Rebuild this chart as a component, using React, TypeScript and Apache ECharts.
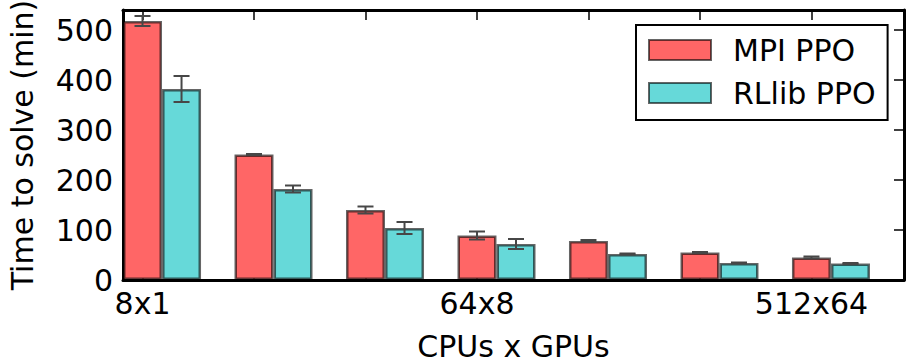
import React, { useEffect, useRef } from "react";
import * as echarts from "echarts";

const categories = ["8x1", "16x2", "32x4", "64x8", "128x16", "256x32", "512x64"];
const labeledTicks = [0, 3, 6];
const mpiValues = [518, 251, 140, 89, 78, 55, 45];
const mpiErrors = [10, 1, 7, 8, 2, 1, 2];
const rllibValues = [382, 182, 104, 72, 52, 34, 33];
const rllibErrors = [26, 7, 12, 10, 1, 1, 1];
const yTicks = [0, 100, 200, 300, 400, 500];

const BAR_W = 0.35;
const FONT = "DejaVu Sans";

export default function App() {
  const ref = useRef<HTMLDivElement>(null);
  useEffect(() => {
    if (!ref.current) return;
    const chart = echarts.init(ref.current, null, { renderer: "svg" });
    const idx = categories.map((_, i) => i);
    const mpiData = idx.map((i) => [i, mpiValues[i]]);
    const rlData = idx.map((i) => [i + BAR_W, rllibValues[i]]);
    const errData = [
      ...idx.map((i) => [i, mpiValues[i], mpiErrors[i]]),
      ...idx.map((i) => [i + BAR_W, rllibValues[i], rllibErrors[i]]),
    ];
    const axisLine = { show: true, onZero: false, lineStyle: { color: "#000", width: 3 } };
    const tick = { show: true, inside: true, length: 10, lineStyle: { color: "#000", width: 1.5 } };
    const xMin = -BAR_W / 2;
    const xMax = 6.83;
    chart.setOption({
      animation: false,
      textStyle: { fontFamily: FONT },
      grid: { left: 123, right: 7, top: 10, bottom: 84, containLabel: false, outerBoundsMode: "none" },
      legend: {
        data: ["MPI PPO", "RLlib PPO"],
        orient: "vertical",
        left: 636,
        top: 25,
        icon: "rect",
        itemWidth: 62,
        itemHeight: 20,
        itemGap: 13,
        padding: [10, 12, 12, 12],
        borderColor: "#000",
        borderWidth: 2,
        borderRadius: 0,
        backgroundColor: "#fff",
        textStyle: { fontFamily: FONT, fontSize: 30, color: "#000", lineHeight: 30, padding: [0, 0, 0, 17] },
      },
      xAxis: [
        {
          type: "value",
          position: "bottom",
          min: xMin,
          max: xMax,
          name: "CPUs x GPUs",
          nameLocation: "middle",
          nameGap: 51,
          nameTextStyle: { fontFamily: FONT, fontSize: 30, color: "#000" },
          axisLine,
          axisTick: { ...tick, customValues: idx },
          axisLabel: {
            show: true,
            customValues: labeledTicks,
            margin: 8,
            fontFamily: FONT,
            fontSize: 30,
            color: "#000",
            formatter: (v: number) => (labeledTicks.includes(Math.round(v)) && Math.abs(v - Math.round(v)) < 1e-6 ? categories[Math.round(v)] : ""),
          },
          splitLine: { show: false },
        },
        {
          type: "value",
          position: "top",
          min: xMin,
          max: xMax,
          axisLine,
          axisTick: { ...tick, customValues: idx },
          axisLabel: { show: false },
          splitLine: { show: false },
        },
      ],
      yAxis: [
        {
          type: "value",
          position: "left",
          min: 0,
          max: 540,
          interval: 100,
          name: "Time to solve (min)",
          nameLocation: "middle",
          nameGap: 86,
          nameTextStyle: { fontFamily: FONT, fontSize: 30, color: "#000" },
          axisLine,
          axisTick: { ...tick, customValues: yTicks },
          axisLabel: {
            show: true,
            customValues: yTicks,
            margin: 10,
            fontFamily: FONT,
            fontSize: 30,
            color: "#000",
            formatter: (v: number) => (yTicks.includes(v) ? String(v) : ""),
          },
          splitLine: { show: false },
        },
        {
          type: "value",
          position: "right",
          min: 0,
          max: 540,
          interval: 100,
          axisLine,
          axisTick: { ...tick, customValues: yTicks },
          axisLabel: { show: false },
          splitLine: { show: false },
        },
      ],
      series: [
        {
          name: "MPI PPO",
          type: "bar",
          xAxisIndex: 0,
          yAxisIndex: 0,
          data: mpiData,
          barWidth: 39,
          barGap: "-100%",
          itemStyle: { color: "#FF6666", borderColor: "rgba(0,0,0,0.6)", borderWidth: 2.5 },
        },
        {
          name: "RLlib PPO",
          type: "bar",
          xAxisIndex: 0,
          yAxisIndex: 0,
          data: rlData,
          barWidth: 39,
          barGap: "-100%",
          itemStyle: { color: "#66D9D9", borderColor: "rgba(0,0,0,0.6)", borderWidth: 2.5 },
        },
        {
          name: "errors",
          type: "custom",
          xAxisIndex: 0,
          yAxisIndex: 0,
          data: errData,
          z: 5,
          renderItem: (params: any, api: any) => {
            const x = api.value(0);
            const v = api.value(1);
            const e = api.value(2);
            const top = api.coord([x, v + e]);
            const bot = api.coord([x, v - e]);
            const cap = 8;
            const style = { stroke: "#474747", lineWidth: 2 };
            return {
              type: "group",
              children: [
                { type: "line", shape: { x1: top[0], y1: top[1], x2: bot[0], y2: bot[1] }, style },
                { type: "line", shape: { x1: top[0] - cap, y1: top[1], x2: top[0] + cap, y2: top[1] }, style },
                { type: "line", shape: { x1: bot[0] - cap, y1: bot[1], x2: bot[0] + cap, y2: bot[1] }, style },
              ],
            };
          },
        },
      ],
    });
    return () => chart.dispose();
  }, []);
  return <div ref={ref} style={{ width: 911, height: 364, position: "absolute", left: 0, top: 0, background: "#fff" }} />;
}
